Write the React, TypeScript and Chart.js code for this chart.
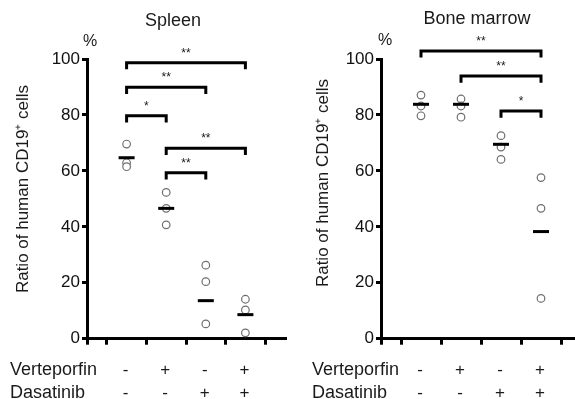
import React, { useEffect, useRef } from 'react';
import { Chart, registerables } from 'chart.js';

Chart.register(...registerables);

// ---------- data ----------
const verteporfinSigns = ['-', '+', '-', '+'];
const dasatinibSigns = ['-', '-', '+', '+'];
const rowNames = ['Verteporfin', 'Dasatinib'];
const yAxisTitle = 'Ratio of human CD19\u207A cells';
const unitLabel = '%';
const yTickStep = 20;

const spleenTitle = 'Spleen';
const spleenPoints = [
  [69.6, 62.9, 61.5],
  [52.3, 46.6, 40.7],
  [26.3, 20.4, 5.3],
  [14.1, 10.3, 2.1],
];
const spleenMeans = [64.7, 46.6, 13.6, 8.6];
// [from group, to group, level, significance]
const spleenBrackets: [number, number, number, string][] = [
  [1, 4, 98.7, '**'],
  [1, 3, 89.9, '**'],
  [1, 2, 79.7, '*'],
  [2, 4, 68.1, '**'],
  [2, 3, 59.3, '**'],
];

const marrowTitle = 'Bone marrow';
const marrowPoints = [
  [87.1, 83.2, 79.7],
  [85.7, 83.2, 79.2],
  [72.6, 68.5, 64.1],
  [57.6, 46.6, 14.4],
];
const marrowMeans = [83.8, 83.8, 69.5, 38.3];
const marrowBrackets: [number, number, number, string][] = [
  [1, 4, 102.9, '**'],
  [2, 4, 93.9, '**'],
  [3, 4, 81.4, '*'],
];

// ---------- styling / layout ----------
const FONT = '"Liberation Sans", Arial, Helvetica, sans-serif';
const TEXT = '#1a1a1a';
const LEG = 2.4; // bracket leg length in axis units
const X_TICKS = [0, 0.5, 1.5, 2.5, 3.5, 4.5];
const ROW_BASELINES = [375, 397.5];

interface PanelSpec {
  title: string;
  points: number[][];
  means: number[];
  brackets: [number, number, number, string][];
  canvasLeft: number;
  canvasWidth: number;
  axisWidth: number;
  padRight: number;
  xMax: number;
  titleX: number;
  titleBase: number;
  pctX: number;
  pctY: number;
  yTitleX: number;
  yTitleY: number;
  rowNameX: number;
}

const panels: PanelSpec[] = [
  {
    title: spleenTitle,
    points: spleenPoints,
    means: spleenMeans,
    brackets: spleenBrackets,
    canvasLeft: 0,
    canvasWidth: 287,
    axisWidth: 87,
    padRight: 2,
    xMax: 5,
    titleX: 173,
    titleBase: 26,
    pctX: 90,
    pctY: 42,
    yTitleX: 28,
    yTitleY: 189,
    rowNameX: 10,
  },
  {
    title: marrowTitle,
    points: marrowPoints,
    means: marrowMeans,
    brackets: marrowBrackets,
    canvasLeft: 287,
    canvasWidth: 288,
    axisWidth: 94,
    padRight: 0,
    xMax: 4.85,
    titleX: 190,
    titleBase: 23.5,
    pctX: 98,
    pctY: 41,
    yTitleX: 41,
    yTitleY: 183,
    rowNameX: 25,
  },
];

function textPlugin(spec: PanelSpec) {
  return {
    id: 'panelText',
    afterDraw(chart: any) {
      const ctx = chart.ctx as CanvasRenderingContext2D;
      const xs = chart.scales.x;
      const ys = chart.scales.y;
      ctx.save();
      ctx.fillStyle = TEXT;

      ctx.font = `18px ${FONT}`;
      ctx.textAlign = 'center';
      ctx.textBaseline = 'alphabetic';
      ctx.fillText(spec.title, spec.titleX, spec.titleBase);

      ctx.font = `16px ${FONT}`;
      ctx.textBaseline = 'middle';
      ctx.fillText(unitLabel, spec.pctX, spec.pctY);

      ctx.save();
      ctx.translate(spec.yTitleX, spec.yTitleY);
      ctx.rotate(-Math.PI / 2);
      ctx.font = `17px ${FONT}`;
      ctx.textAlign = 'center';
      ctx.textBaseline = 'alphabetic';
      ctx.fillText(yAxisTitle, 0, 0);
      ctx.restore();

      ctx.textBaseline = 'alphabetic';
      [verteporfinSigns, dasatinibSigns].forEach((signs, r) => {
        const base = ROW_BASELINES[r];
        ctx.font = `18px ${FONT}`;
        ctx.textAlign = 'left';
        ctx.fillText(rowNames[r], spec.rowNameX, base);
        ctx.font = `17px ${FONT}`;
        ctx.textAlign = 'center';
        signs.forEach((s, i) => ctx.fillText(s, xs.getPixelForValue(i + 1) - 1, base));
      });

      ctx.font = `12px ${FONT}`;
      ctx.textAlign = 'center';
      spec.brackets.forEach(([a, b, lvl, lab]) => {
        const cx = (xs.getPixelForValue(a) + xs.getPixelForValue(b)) / 2;
        ctx.fillText(lab, cx, ys.getPixelForValue(lvl) - 6);
      });
      ctx.restore();
    },
  };
}

function buildConfig(spec: PanelSpec): any {
  const circleData = spec.points.flatMap((vals, i) => vals.map((v) => ({ x: i + 1, y: v })));
  const meanData = spec.means.map((m, i) => ({ x: i + 1, y: m }));
  const bracketSets = spec.brackets.map(([a, b, lvl]) => ({
    data: [
      { x: a, y: lvl - LEG },
      { x: a, y: lvl },
      { x: b, y: lvl },
      { x: b, y: lvl - LEG },
    ],
    showLine: true,
    borderColor: '#000',
    borderWidth: 3,
    pointRadius: 0,
    clip: false,
    borderJoinStyle: 'miter',
    borderCapStyle: 'butt',
    fill: false,
    order: 2,
  }));
  return {
    type: 'scatter',
    data: {
      datasets: [
        {
          data: meanData,
          pointStyle: 'line',
          pointRadius: 8,
          borderWidth: 3,
          borderColor: '#000',
          order: 0,
          clip: false,
        },
        {
          data: circleData,
          pointStyle: 'circle',
          pointRadius: 3.8,
          borderWidth: 1.2,
          borderColor: '#6e6e6e',
          backgroundColor: '#ffffff',
          order: 1,
          clip: false,
        },
        ...bracketSets,
      ],
    },
    options: {
      responsive: false,
      animation: false,
      devicePixelRatio: 1,
      events: [],
      layout: { autoPadding: false, padding: { left: 0, top: 59, right: spec.padRight, bottom: 50.3 } },
      plugins: { legend: { display: false }, tooltip: { enabled: false } },
      scales: {
        x: {
          type: 'linear',
          min: 0,
          max: spec.xMax,
          afterBuildTicks: (s: any) => {
            s.ticks = X_TICKS.map((v) => ({ value: v }));
          },
          afterFit: (s: any) => {
            s.height = 10;
          },
          ticks: { display: false },
          grid: { drawOnChartArea: false, drawTicks: true, tickLength: 6, lineWidth: 3, color: '#000' },
          border: { display: true, width: 3, color: '#000' },
        },
        y: {
          type: 'linear',
          min: 0,
          max: 100,
          afterFit: (s: any) => {
            s.width = spec.axisWidth;
          },
          ticks: { stepSize: yTickStep, padding: 2, color: '#111', font: { family: FONT, size: 17 } },
          grid: { drawOnChartArea: false, drawTicks: true, tickLength: 5, lineWidth: 3, color: '#000' },
          border: { display: true, width: 3, color: '#000' },
        },
      },
    },
    plugins: [textPlugin(spec)],
  };
}

export default function App() {
  const leftRef = useRef<HTMLCanvasElement | null>(null);
  const rightRef = useRef<HTMLCanvasElement | null>(null);

  useEffect(() => {
    const charts: Chart[] = [];
    [leftRef.current, rightRef.current].forEach((cv, i) => {
      if (cv) charts.push(new Chart(cv, buildConfig(panels[i])));
    });
    return () => charts.forEach((c) => c.destroy());
  }, []);

  return (
    <div style={{ position: 'fixed', left: 0, top: 0, width: 575, height: 399, background: '#fff', overflow: 'hidden' }}>
      <canvas
        ref={leftRef}
        width={panels[0].canvasWidth}
        height={399}
        style={{ position: 'absolute', left: panels[0].canvasLeft, top: 0, display: 'block' }}
      />
      <canvas
        ref={rightRef}
        width={panels[1].canvasWidth}
        height={399}
        style={{ position: 'absolute', left: panels[1].canvasLeft, top: 0, display: 'block' }}
      />
    </div>
  );
}
